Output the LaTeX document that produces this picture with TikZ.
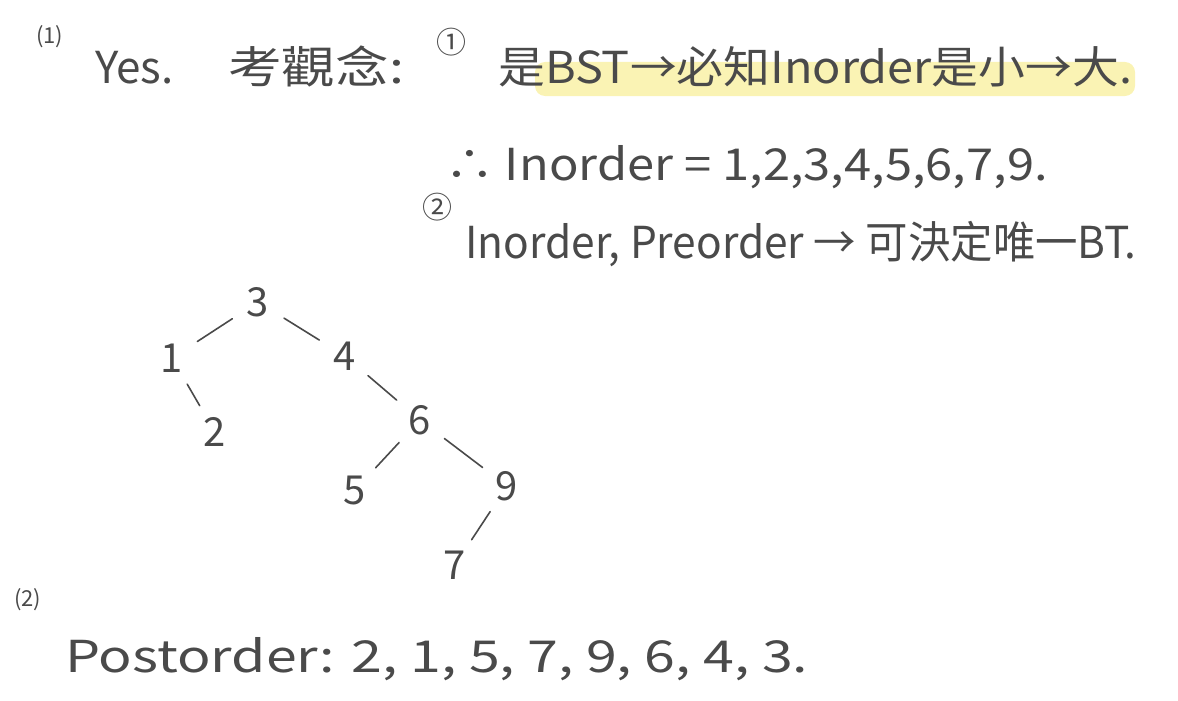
\documentclass[tikz,border=0pt]{standalone}
\usepackage{fontspec}
\usepackage{graphicx}
\setmainfont{Noto Sans CJK TC}
\definecolor{ink}{HTML}{4A4A4A}
\definecolor{hl}{HTML}{FAF3B4}
\begin{document}
\begin{tikzpicture}[x=1pt,y=-1pt,
  txt/.style={anchor=base west,inner sep=0pt,text=ink,font=\fontsize{44}{48}\selectfont},
  small/.style={anchor=base west,inner sep=0pt,text=ink,font=\fontsize{22}{26}\selectfont},
  circ/.style={anchor=base west,inner sep=0pt,text=ink,font=\fontsize{30}{34}\selectfont},
  num/.style={circle,inner sep=0pt,minimum size=34pt,text=ink,font=\fontsize{40}{44}\selectfont},
  edge/.style={draw=ink,line width=1.6pt,line cap=round,shorten <=12pt,shorten >=12pt}]
\useasboundingbox (0,0) rectangle (1178,701);
\fill[hl,rounded corners=10pt] (535,62) rectangle (1135,96);
% line 1
\node[small] (p1) at (36,44) {(1)};
\node[txt] (yes) at (95,84) {Yes.};
\node[txt] (kgn) at (228,84) {\scalebox{1.22}[1]{考觀念:}};
\node[circ] (c1) at (436,54) {①};
\node[txt] (l1) at (498,84) {\scalebox{1.064}[1]{是BST→必知Inorder是小→大.}};
% line 2
\node[txt] (l2) at (445,180) {\scalebox{1.11}[1]{∴ Inorder = 1,2,3,4,5,6,7,9.}};
% line 3
\node[circ] (c2) at (422,218) {②};
\node[txt] (l3) at (465,258) {\scalebox{0.964}[1]{Inorder, Preorder → 可決定唯一BT.}};
% tree
\node[num] (n3) at (258,302) {3};
\node[num] (n1) at (172,358) {1};
\node[num] (n2) at (215,432) {2};
\node[num] (n4) at (345,356) {4};
\node[num] (n6) at (420,420) {6};
\node[num] (n5) at (355,490) {5};
\node[num] (n9) at (507,486) {9};
\node[num] (n7) at (455,565) {7};
\draw[edge] (n3) -- (n1);
\draw[edge] (n3) -- (n4);
\draw[edge] (n1) -- (n2);
\draw[edge] (n4) -- (n6);
\draw[edge] (n6) -- (n5);
\draw[edge] (n6) -- (n9);
\draw[edge] (n9) -- (n7);
% part 2
\node[small] (p2) at (14,606) {(2)};
\node[txt] (post) at (65,672) {\scalebox{1.26}[1]{Postorder: 2, 1, 5, 7, 9, 6, 4, 3.}};
\end{tikzpicture}
\end{document}
